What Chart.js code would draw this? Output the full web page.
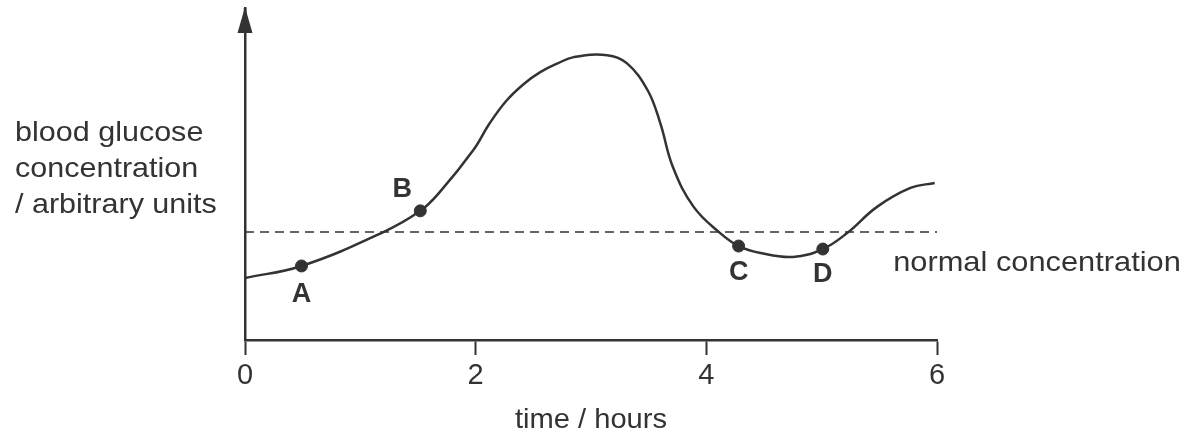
<!DOCTYPE html>
<html>
<head>
<meta charset="utf-8">
<script src="https://cdn.jsdelivr.net/npm/chart.js@4"></script>
<style>
  html, body { margin: 0; padding: 0; background: #fff; }
  #wrap { width: 1200px; height: 440px; }
</style>
</head>
<body>
<div id="wrap"><canvas id="myChart" width="1200" height="440"></canvas></div>
<script>
// time in hours, glucose in arbitrary units
const curveX = [0, 0.49, 1.2, 1.52, 1.69, 1.98, 2.12, 2.27, 2.42, 2.56, 2.71, 2.85, 3.14, 3.31, 3.49, 3.6, 3.71, 3.89, 4.12, 4.28, 4.47, 4.75, 5.01, 5.22, 5.48, 5.77, 5.98];
const curveY = [1.87, 2.23, 3.25, 3.89, 4.46, 5.72, 6.52, 7.22, 7.72, 8.07, 8.33, 8.52, 8.58, 8.34, 7.53, 6.54, 5.21, 4.01, 3.22, 2.83, 2.62, 2.5, 2.74, 3.22, 4.01, 4.58, 4.73];

// marked points
const pointLabels = ['A', 'B', 'C', 'D'];
const pointX = [0.49, 1.52, 4.28, 5.01];
const pointY = [2.23, 3.89, 2.83, 2.74];

// normal concentration
const normalLevel = 3.25;
const normalText = 'normal concentration';

const xTicks = [0, 2, 4, 6];
const yTitle = ['blood glucose', 'concentration', '/ arbitrary units'];
const xTitle = 'time / hours';

const ink = '#333';
const fontFam = '"Liberation Sans", Arial, sans-serif';

const ctx = document.getElementById('myChart');

// text a bit wider than the font, like the scan
function wideText(c, t, x, y, sx) {
  c.save();
  c.translate(x, y);
  c.scale(sx, 1);
  c.fillText(t, 0, 0);
  c.restore();
}

// arrow, labels and titles
const extras = {
  id: 'extras',
  afterDraw(chart) {
    const c = chart.ctx;
    const xs = chart.scales.x, ys = chart.scales.y;
    const ax = xs.getPixelForValue(0);
    c.save();
    // arrow on y axis
    c.strokeStyle = ink;
    c.lineWidth = 2.5;
    c.beginPath();
    c.moveTo(ax, ys.getPixelForValue(10));
    c.lineTo(ax, 20);
    c.stroke();
    c.fillStyle = ink;
    c.beginPath();
    c.moveTo(ax, 7);
    c.lineTo(ax - 7.5, 33);
    c.lineTo(ax + 7.5, 33);
    c.closePath();
    c.fill();

    // letters at the points
    c.font = 'bold 27px ' + fontFam;
    c.textAlign = 'center';
    c.textBaseline = 'middle';
    const offs = [[0, 29], [-18, -21], [0, 27], [0, 26]];
    pointLabels.forEach((t, i) => {
      const px = xs.getPixelForValue(pointX[i]);
      const py = ys.getPixelForValue(pointY[i]);
      c.fillText(t, px + offs[i][0], py + offs[i][1]);
    });

    // normal concentration label
    c.font = '28px ' + fontFam;
    c.textAlign = 'left';
    wideText(c, normalText, xs.getPixelForValue(5.62), ys.getPixelForValue(normalLevel) + 31, 1.1);

    // y title
    yTitle.forEach((t, i) => {
      wideText(c, t, 15, 133 + i * 36, 1.09);
    });

    // x title
    c.textAlign = 'center';
    wideText(c, xTitle, (xs.left + xs.right) / 2, 420, 1.04);
    c.restore();
  }
};

let grafica = new Chart(ctx, {
  type: 'scatter',
  data: {
    datasets: [
      {
        label: 'glucose',
        data: curveX.map((x, i) => ({ x: x, y: curveY[i] })),
        showLine: true,
        borderColor: ink,
        borderWidth: 2.5,
        pointRadius: 0,
        tension: 0.4,
        fill: false
      },
      {
        label: 'normal',
        data: [{ x: 0, y: normalLevel }, { x: 6, y: normalLevel }],
        showLine: true,
        borderColor: ink,
        borderWidth: 1.5,
        borderDash: [9, 6],
        pointRadius: 0,
        fill: false
      },
      {
        label: 'points',
        data: pointX.map((x, i) => ({ x: x, y: pointY[i] })),
        showLine: false,
        pointRadius: 6,
        pointBackgroundColor: ink,
        pointBorderColor: ink
      }
    ]
  },
  options: {
    responsive: false,
    animation: false,
    layout: { padding: { left: 0, right: 263, top: 8, bottom: 0 } },
    plugins: { legend: { display: false }, tooltip: { enabled: false } },
    scales: {
      x: {
        type: 'linear',
        min: 0,
        max: 6,
        afterFit(scale) { scale.height = 100; },
        afterBuildTicks(scale) { scale.ticks = xTicks.map(v => ({ value: v })); },
        grid: { drawOnChartArea: false, drawTicks: true, tickLength: 15, tickWidth: 2, tickColor: ink },
        border: { display: true, color: ink, width: 2.5 },
        ticks: { color: ink, font: { size: 29, family: fontFam }, padding: 4, maxRotation: 0 }
      },
      y: {
        type: 'linear',
        min: 0,
        max: 10,
        afterFit(scale) { scale.width = 245; },
        grid: { display: false },
        border: { display: true, color: ink, width: 2.5 },
        ticks: { display: false }
      }
    }
  },
  plugins: [extras]
});
</script>
</body>
</html>
